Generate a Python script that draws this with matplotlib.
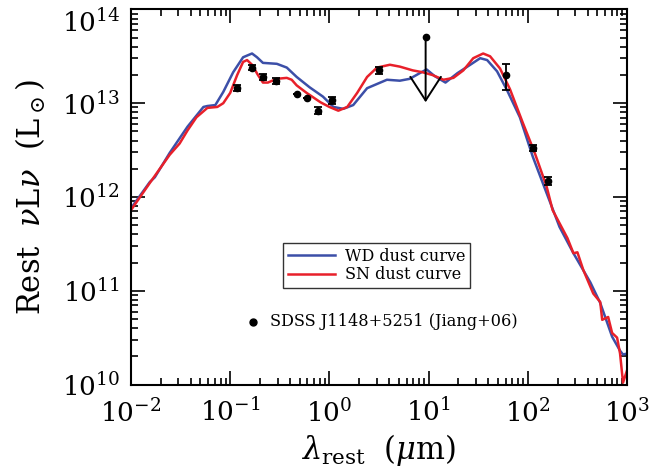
import numpy as np
import matplotlib
matplotlib.use("Agg")
import matplotlib.pyplot as plt

plt.rcParams["font.family"] = ["DejaVu Serif"]
plt.rcParams["mathtext.fontset"] = "dejavuserif"

# model SEDs, log10(lambda/um) and log10(nu L_nu / Lsun)
wd_loglam = [-2.00, -1.81, -1.76, -1.61, -1.43, -1.27, -1.23, -1.15, -1.07, -0.97,
             -0.87, -0.78, -0.73, -0.67, -0.53, -0.43, -0.33, -0.20, -0.065, 0.04,
             0.14, 0.24, 0.38, 0.58, 0.71, 0.81, 0.91, 0.98, 1.06, 1.17,
             1.29, 1.42, 1.52, 1.59, 1.69, 1.79, 1.92, 2.05, 2.19, 2.32,
             2.46, 2.63, 2.73, 2.85, 2.93, 2.96, 3.00]
wd_logL = [11.88, 12.16, 12.21, 12.47, 12.75, 12.96, 12.97, 12.98, 13.12, 13.33,
           13.49, 13.53, 13.49, 13.43, 13.42, 13.38, 13.28, 13.17, 13.07, 12.96,
           12.94, 12.98, 13.16, 13.25, 13.24, 13.26, 13.32, 13.36, 13.29, 13.22,
           13.32, 13.41, 13.48, 13.46, 13.34, 13.14, 12.85, 12.43, 12.04, 11.68,
           11.40, 11.09, 10.87, 10.51, 10.36, 10.32, 10.33]

sn_loglam = [-2.00, -1.81, -1.61, -1.51, -1.43, -1.34, -1.23, -1.13, -1.07, -1.00,
             -0.93, -0.87, -0.83, -0.78, -0.72, -0.67, -0.62, -0.53, -0.43, -0.38,
             -0.33, -0.23, -0.09, 0.00, 0.09, 0.18, 0.28, 0.38, 0.48, 0.61,
             0.71, 0.84, 0.94, 1.04, 1.15, 1.25, 1.35, 1.45, 1.55, 1.62,
             1.72, 1.82, 1.95, 2.07, 2.19, 2.25, 2.32, 2.40, 2.46, 2.50,
             2.56, 2.66, 2.73, 2.75, 2.81, 2.85, 2.90, 2.93, 2.96, 3.00]
sn_logL = [11.86, 12.15, 12.45, 12.57, 12.71, 12.85, 12.95, 12.96, 13.00, 13.11,
           13.30, 13.44, 13.46, 13.41, 13.30, 13.22, 13.22, 13.26, 13.27, 13.25,
           13.19, 13.11, 13.01, 12.96, 12.92, 12.96, 13.11, 13.28, 13.38, 13.41,
           13.39, 13.35, 13.33, 13.30, 13.25, 13.27, 13.35, 13.48, 13.53, 13.50,
           13.37, 13.15, 12.79, 12.47, 12.11, 11.86, 11.72, 11.56, 11.40, 11.41,
           11.22, 10.97, 10.88, 10.69, 10.72, 10.55, 10.50, 10.33, 10.02, 10.15]

# SDSS J1148+5251 photometry (Jiang+06)
obs_loglam = [-0.93, -0.78, -0.67, -0.54, -0.33, -0.23, -0.12, 0.03, 0.50, 1.78, 2.05, 2.20]
obs_logL = [13.16, 13.38, 13.28, 13.24, 13.10, 13.06, 12.92, 13.03, 13.35, 13.30, 12.52, 12.17]
obs_err_hi = [0.035, 0.03, 0.03, 0.03, 0.0, 0.0, 0.035, 0.035, 0.035, 0.12, 0.035, 0.04]
obs_err_lo = [0.035, 0.03, 0.03, 0.03, 0.0, 0.0, 0.035, 0.035, 0.035, 0.16, 0.035, 0.04]

# upper limit
ul_loglam = 0.97
ul_logL = 13.71
ul_tip_logL = 13.01

fig = plt.figure(figsize=(6.63, 4.76), dpi=100)
ax = fig.add_axes([0.1976, 0.1922, 0.7481, 0.788])

ax.plot(10 ** np.array(wd_loglam), 10 ** np.array(wd_logL), color="#3c4fa8", lw=1.8,
        label="WD dust curve")
ax.plot(10 ** np.array(sn_loglam), 10 ** np.array(sn_logL), color="#e8202a", lw=1.8,
        label="SN dust curve")

x = 10 ** np.array(obs_loglam)
y = 10 ** np.array(obs_logL)
yerr = [y - 10 ** (np.array(obs_logL) - np.array(obs_err_lo)),
        10 ** (np.array(obs_logL) + np.array(obs_err_hi)) - y]
ax.errorbar(x, y, yerr=yerr, fmt="o", color="black", ms=4.5, capsize=3,
            elinewidth=1.3, capthick=1.3, zorder=5)

ax.plot(10 ** ul_loglam, 10 ** ul_logL, "o", color="black", ms=4.5, zorder=5)
ax.annotate("", xy=(10 ** ul_loglam, 10 ** ul_tip_logL),
            xytext=(10 ** ul_loglam, 10 ** ul_logL),
            arrowprops=dict(arrowstyle="->,head_length=0.85,head_width=0.55",
                            color="black", lw=1.4, mutation_scale=20,
                            shrinkA=0, shrinkB=0))

ax.set_xscale("log")
ax.set_yscale("log")
ax.set_xlim(1e-2, 1e3)
ax.set_ylim(1e10, 1e14)

ax.tick_params(which="both", direction="in", top=True, right=True, width=1.2)
ax.tick_params(which="major", length=10, labelsize=19)
ax.tick_params(axis="x", which="major", pad=10)
ax.tick_params(axis="y", which="major", pad=8)
ax.tick_params(which="minor", length=5)
for sp in ax.spines.values():
    sp.set_linewidth(1.5)

ax.set_xlabel(r"$\lambda_{\rm rest}$  ($\mu$m)", fontsize=22, labelpad=4)
ax.set_ylabel(r"Rest  $\nu$L$\nu$  (L$_\odot$)", fontsize=22, labelpad=10)

leg = ax.legend(loc="upper left", bbox_to_anchor=(0.306, 0.377), fontsize=11.5,
                frameon=True, fancybox=False, edgecolor="black", handlelength=3.0,
                borderpad=0.3, labelspacing=0.1, handletextpad=0.6, borderaxespad=0)
leg.get_frame().set_linewidth(1.0)

ax.plot([0.245], [0.167], "o", color="black", ms=5, transform=ax.transAxes)
ax.text(0.28, 0.167, "SDSS J1148+5251 (Jiang+06)", transform=ax.transAxes,
        fontsize=11.6, va="center", ha="left")

# keep the topmost y label inside the figure
fig.canvas.draw()
for t in ax.yaxis.get_major_ticks():
    if np.isclose(t.get_loc(), 1e14):
        t.label1.set_verticalalignment("top")

fig.savefig("out.png", dpi=100)
